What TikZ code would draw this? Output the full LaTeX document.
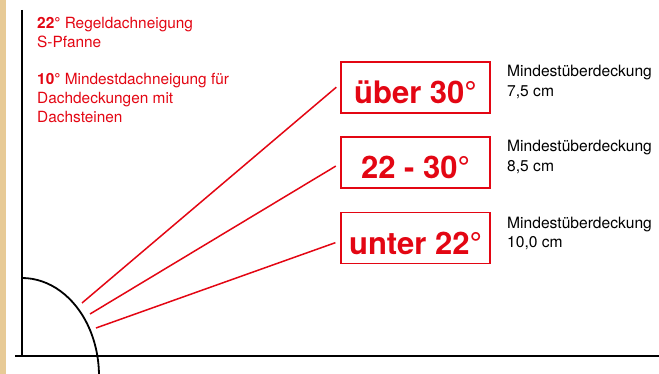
\documentclass[tikz,border=0pt]{standalone}
\usepackage{fontspec}
\setmainfont{TeX Gyre Heros}
\usepackage{tikz}
\usetikzlibrary{calc}
\definecolor{dred}{RGB}{227,6,19}
\definecolor{sand}{RGB}{231,202,150}
\tikzset{box/.style={draw=dred,line width=1.8pt,minimum width=149pt,inner xsep=0pt,inner ysep=0pt,text height=42pt,text depth=9pt,text=dred,font=\fontsize{31}{31}\selectfont\bfseries},
  info/.style={anchor=base west,align=left,inner sep=0pt,font=\fontsize{15.6}{20}\selectfont},
  note/.style={info,text=dred,font=\fontsize{15.4}{19}\selectfont}}
\tikzset{axis/.style={line width=1.8pt},slope/.style={dred,line width=1.5pt,shorten >=5pt}}

\begin{document}
\begin{tikzpicture}[x=1pt,y=-1pt]
  \useasboundingbox (0,0) rectangle (659,374);
  \fill[sand] (0,0) rectangle (5.5,374);
  % axes and roof curve
  \coordinate (top) at (22,10);
  \coordinate (o) at (22,356);
  \coordinate (l) at (15,356);
  \coordinate (r) at (659,356);
  \coordinate (a0) at (22,278);
  \draw[axis] (top) -- (o);
  \draw[axis] (l) -- (r);
  \draw[axis] (a0) arc[start angle=90,end angle=-2,x radius=77pt,y radius=98pt];
  % notes (anchored on their last line)
  \node[note] (n1) at (37,48) {\textbf{22°} Regeldachneigung\\S-Pfanne};
  \node[note] (n2) at (37,123) {\textbf{10°} Mindestdachneigung für\\Dachdeckungen mit\\Dachsteinen};
  % pitch boxes
  \node[box] (b1) at (415.5,87.5) {über 30°};
  \node[box] (b2) at (415.5,162.5) {22 - 30°};
  \node[box] (b3) at (415.5,238) {unter 22°};
  \node[info] (m1) at (507,97) {Mindestüberdeckung\\7,5 cm};
  \node[info] (m2) at (507,172) {Mindestüberdeckung\\8,5 cm};
  \node[info] (m3) at (507,248) {Mindestüberdeckung\\10,0 cm};
  % slopes
  \coordinate (p1) at (82,303);
  \coordinate (p2) at (90,314);
  \coordinate (p3) at (96,328);
  \draw[slope] (p1) -- ([yshift=3.5pt]b1.west);
  \draw[slope] (p2) -- ([yshift=-1pt]b2.west);
  \draw[slope] (p3) -- ([yshift=-3pt]b3.west);
\end{tikzpicture}
\end{document}
